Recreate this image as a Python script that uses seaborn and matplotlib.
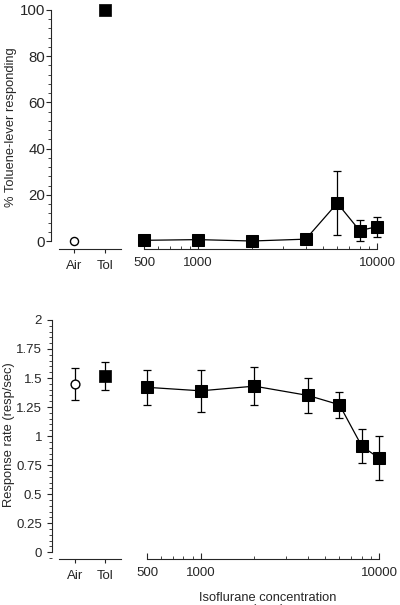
import numpy as np
import pandas as pd
import matplotlib
matplotlib.use("Agg")
import matplotlib.pyplot as plt
import matplotlib.ticker as mticker
import seaborn as sns

# ---- data ----
ctrl_labels = ["Air", "Tol"]
ctrl_pct = [0.0, 100.0]
ctrl_rate = [1.45, 1.52]
ctrl_rate_err = [0.14, 0.12]

conc = [500, 1000, 2000, 4000, 6000, 8000, 10000]
pct = [0.3, 0.6, 0.0, 0.8, 16.4, 4.5, 6.2]
pct_err = [0, 0, 0, 0, 13.7, 4.5, 4.3]
rate = [1.42, 1.39, 1.43, 1.35, 1.27, 0.915, 0.81]
rate_err = [0.15, 0.18, 0.165, 0.15, 0.11, 0.147, 0.19]

conc_ticks = [500, 1000, 10000]

sns.set_style("ticks")
plt.rcParams["font.family"] = ["Liberation Sans", "DejaVu Sans"]
plt.rcParams["axes.linewidth"] = 0.8

W, H = 400, 605
fig = plt.figure(figsize=(W / 100, H / 100), dpi=100)


def add_ax(x0, x1, y0, y1):
    # pixel coords, y measured from top
    return fig.add_axes([x0 / W, 1 - y1 / H, (x1 - x0) / W, (y1 - y0) / H])


FS_T = 9.5
FS_L = 9.3

ax_tl = add_ax(51, 121, 6, 249)
ax_tr = add_ax(144, 377, 6, 249)
ax_bl = add_ax(52, 121, 316, 559)
ax_br = add_ax(147, 379, 316, 559)

df_ctrl = pd.DataFrame({"pos": [0, 1], "pct": ctrl_pct, "rate": ctrl_rate})
df_iso = pd.DataFrame({"conc": conc, "pct": pct, "rate": rate})


def style_left(ax, ylim, bounds, major, minor, ysize, ypad):
    ax.set_xlim(-0.742, 1.516)
    ax.set_ylim(*ylim)
    for s in ["top", "right"]:
        ax.spines[s].set_visible(False)
    ax.spines["left"].set_bounds(*bounds)
    ax.spines["bottom"].set_bounds(-0.5, 1.5)
    ax.set_xticks([0, 1])
    ax.set_xticklabels(ctrl_labels)
    ax.yaxis.set_major_locator(mticker.MultipleLocator(major))
    ax.yaxis.set_minor_locator(mticker.MultipleLocator(minor))
    ax.tick_params(axis="y", which="major", direction="out", length=3.6, width=0.8,
                   labelsize=ysize, pad=ypad)
    ax.tick_params(axis="y", which="minor", direction="out", length=2.2, width=0.6)
    ax.tick_params(axis="x", which="major", direction="out", length=3, width=0.8,
                   labelsize=FS_T, pad=5)
    ax.set_xlabel("")


def style_right(ax, ylim):
    ax.set_xscale("log")
    ax.set_xlim(500, 10000)
    ax.set_ylim(*ylim)
    for s in ["top", "right", "left"]:
        ax.spines[s].set_visible(False)
    ax.set_yticks([])
    ax.set_ylabel("")
    ax.xaxis.set_major_locator(mticker.FixedLocator(conc_ticks))
    ax.xaxis.set_major_formatter(mticker.FixedFormatter([str(c) for c in conc_ticks]))
    ax.xaxis.set_minor_locator(mticker.FixedLocator(
        [600, 700, 800, 900, 2000, 3000, 4000, 5000, 6000, 7000, 8000, 9000]))
    ax.xaxis.set_minor_formatter(mticker.NullFormatter())
    ax.tick_params(axis="x", which="major", direction="in", length=4, width=0.8,
                   labelsize=FS_T, pad=6)
    ax.tick_params(axis="x", which="minor", direction="in", length=2.5, width=0.6)


# ---- top panel ----
sns.scatterplot(data=df_ctrl.iloc[[0]], x="pos", y="pct", ax=ax_tl, marker="o",
                s=34, facecolor="white", edgecolor="black", linewidth=1.0,
                clip_on=False, zorder=4)
sns.scatterplot(data=df_ctrl.iloc[[1]], x="pos", y="pct", ax=ax_tl, marker="s",
                s=72, color="black", edgecolor="black", linewidth=0.5,
                clip_on=False, zorder=4)
style_left(ax_tl, (-3.46, 101.7), (0, 100), 20, 4, 10.8, 0.6)
ax_tl.set_ylabel("% Toluene-lever responding", fontsize=FS_L)
ax_tl.yaxis.set_label_coords(-0.571, 0.50)
ax_tl.yaxis.label.set_va("center")

ax_tr.set_xscale("log")
ax_tr.errorbar(conc, pct, yerr=pct_err, fmt="none", ecolor="black",
               elinewidth=0.9, capsize=3, capthick=0.9, clip_on=False, zorder=2)
sns.lineplot(data=df_iso, x="conc", y="pct", ax=ax_tr, color="black",
             linewidth=0.9, marker="s", markersize=8.5, markeredgecolor="black",
             clip_on=False, zorder=3)
style_right(ax_tr, (-3.46, 101.7))
ax_tr.set_xlabel("")

# ---- bottom panel ----
ax_bl.errorbar([0, 1], ctrl_rate, yerr=ctrl_rate_err, fmt="none", ecolor="black",
               elinewidth=0.9, capsize=3, capthick=0.9, zorder=2)
sns.scatterplot(data=df_ctrl.iloc[[0]], x="pos", y="rate", ax=ax_bl, marker="o",
                s=40, facecolor="white", edgecolor="black", linewidth=1.0,
                clip_on=False, zorder=4)
sns.scatterplot(data=df_ctrl.iloc[[1]], x="pos", y="rate", ax=ax_bl, marker="s",
                s=72, color="black", edgecolor="black", linewidth=0.5,
                clip_on=False, zorder=4)
style_left(ax_bl, (-0.058, 2.034), (0, 2), 0.25, 0.05, FS_T, 3.5)
ax_bl.yaxis.set_major_formatter(mticker.FuncFormatter(
    lambda v, p: ("%g" % round(v, 2))))
ax_bl.set_ylabel("Response rate (resp/sec)", fontsize=FS_L)
ax_bl.yaxis.set_label_coords(-0.616, 0.51)
ax_bl.yaxis.label.set_va("center")

ax_br.set_xscale("log")
ax_br.errorbar(conc, rate, yerr=rate_err, fmt="none", ecolor="black",
               elinewidth=0.9, capsize=3, capthick=0.9, clip_on=False, zorder=2)
sns.lineplot(data=df_iso, x="conc", y="rate", ax=ax_br, color="black",
             linewidth=0.9, marker="s", markersize=8.5, markeredgecolor="black",
             clip_on=False, zorder=3)
style_right(ax_br, (-0.058, 2.034))
ax_br.set_xlabel("Isoflurane concentration\n(ppm)", fontsize=FS_L,
                 linespacing=1.05)
ax_br.xaxis.set_label_coords(0.52, -0.134)
ax_br.xaxis.label.set_va("top")

fig.savefig("out.png", dpi=100)
